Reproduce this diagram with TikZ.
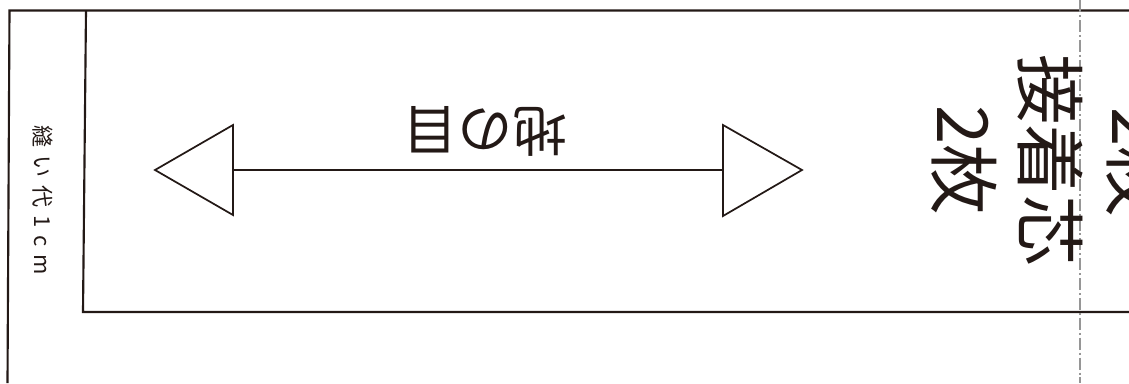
\documentclass[tikz,border=0pt]{standalone}
\usepackage{fontspec}
\newfontfamily\jp{Noto Sans CJK JP}
\definecolor{ink}{RGB}{35,25,22}
\definecolor{foldgray}{RGB}{150,150,150}
\newcommand{\gp}{\kern 6pt}
\tikzset{
  cutline/.style={draw=ink, line width=1.6pt},
  arrowline/.style={draw=ink, line width=1.3pt, line join=miter},
  foldline/.style={draw=foldgray, line width=1.1pt, dash pattern=on 9pt off 2.2pt on 1.5pt off 2.2pt},
  label/.style={text=ink, inner sep=0pt, font=\jp}
}
\begin{document}
\begin{tikzpicture}[x=0.75pt,y=-0.75pt]
\useasboundingbox (0,0) rectangle (1129,383);
\begin{scope}
\clip (0,0) rectangle (1129,383);
% coordinates
\coordinate (otl) at (9.5,10.5);
\coordinate (obl) at (7.5,383);
\coordinate (otr) at (1129,10.5);
\coordinate (itl) at (86,10.5);
\coordinate (ibl) at (83,312);
\coordinate (ibr) at (1129,312);
\coordinate (ft) at (1080,0);
\coordinate (fb) at (1080,383);
% outlines
\draw[cutline] (obl) -- (otl) -- (otr);
\draw[cutline] (itl) -- (ibl) -- (ibr);
% fold line
\draw[foldline] (ft) -- (fb);
% grain arrow
\coordinate (ltip) at (155,170);
\coordinate (lbt) at (233,125);
\coordinate (lbb) at (233,215);
\coordinate (lbm) at (233,170);
\coordinate (rtip) at (802,170);
\coordinate (rbt) at (723,125);
\coordinate (rbb) at (723,216);
\coordinate (rbm) at (723,170);
\draw[arrowline] (ltip) -- (lbt) -- (lbb) -- cycle;
\draw[arrowline] (rtip) -- (rbt) -- (rbb) -- cycle;
\draw[arrowline] (lbm) -- (rbm);
% texts
\node[label, rotate=180, font=\jp\fontsize{41}{49}\selectfont] (grain) at (485,131) {地の目};
\node[label, rotate=-90, font=\jp\fontsize{16.5}{20}\selectfont] (seam) at (43,200) {縫\gp い\gp 代\gp 1\gp c\gp m};
\node[label, rotate=-90, align=center, font=\jp\fontsize{53}{64.5}\selectfont] (interf) at (1007,160) {接着芯\\2枚};
\node[label, rotate=-90, font=\jp\fontsize{53}{64.5}\selectfont] (mirror) at (1139,162) {2枚};
\end{scope}
\end{tikzpicture}
\end{document}
